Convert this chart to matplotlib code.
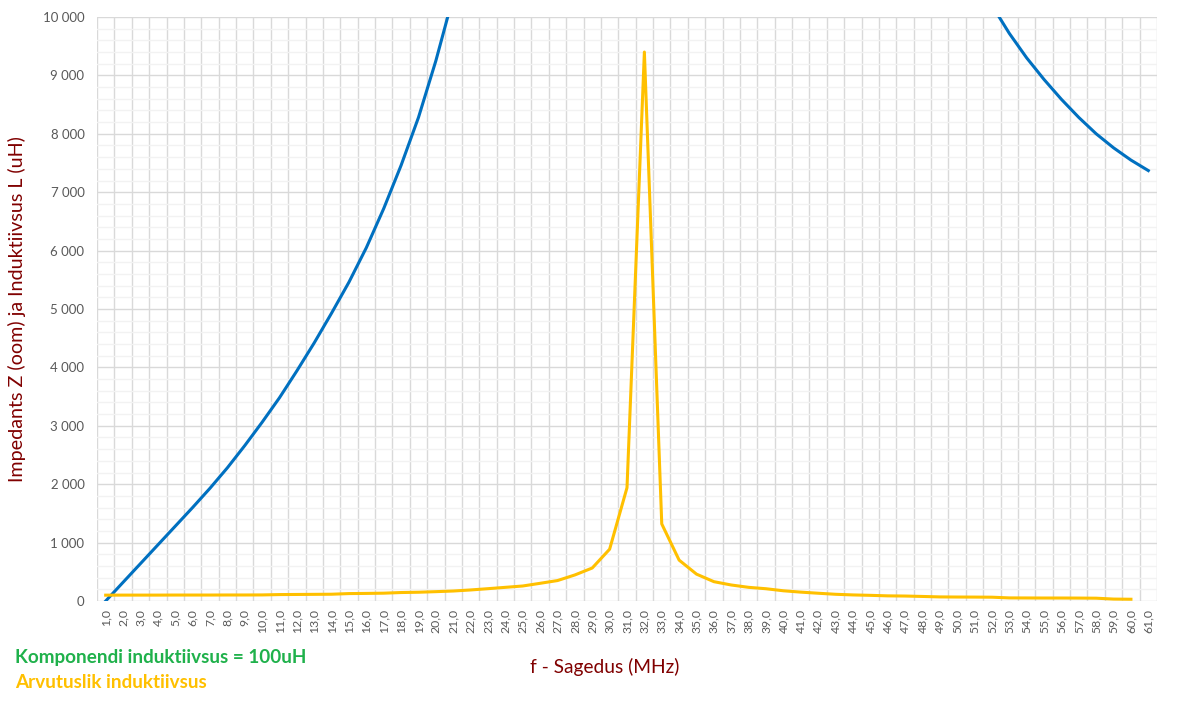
import matplotlib
matplotlib.use("Agg")
import matplotlib.pyplot as plt
from matplotlib.ticker import MultipleLocator, FixedLocator

# frequency categories, MHz
freq = list(range(1, 62))
freq_labels = [f"{f},0" for f in freq]

# impedance Z (ohm), values above 10000 are off the chart
impedance = [
    0, 320, 640, 960, 1280, 1600, 1930, 2280, 2660, 3060,
    3480, 3940, 4420, 4930, 5460, 6050, 6720, 7460, 8280, 9250,
    10350, 11500, 12900, 14600, 16800, 19700, 23800, 30000, 40500, 62000,
    130000, 900000, 90000, 52000, 37000, 29000, 24500, 21500, 19200, 17500,
    16200, 15100, 14200, 13400, 12800, 12200, 11700, 11300, 10950, 10650,
    10420, 10200, 9720, 9300, 8930, 8590, 8280, 8000, 7760, 7550,
    7370,
]

# computed inductance (uH), no value for the last category
inductance = [
    100, 101, 101, 101, 102, 102, 102, 103, 103, 104,
    110, 112, 114, 116, 127, 130, 134, 145, 150, 160,
    171, 189, 211, 234, 257, 303, 350, 446, 565, 887,
    1940, 9400, 1320, 700, 460, 331, 274, 234, 210, 175,
    152, 133, 115, 104, 97, 88, 85, 78, 70, 68,
    67, 65, 53, 52, 51, 51, 50, 48, 33, 30,
]

plt.rcParams["font.family"] = ["Lato", "DejaVu Sans"]

fig = plt.figure(figsize=(11.77, 7.05), dpi=100)
ax = fig.add_axes([97 / 1177, 104 / 705, 1060 / 1177, 584 / 705])

ax.plot(freq, impedance, color="#0070C0", lw=2.2, solid_joinstyle="round")
ax.plot(freq[:len(inductance)], inductance, color="#FFC000", lw=2.2,
        solid_joinstyle="round")

ax.set_xlim(0.5, 61.5)
ax.set_ylim(0, 10000)

ax.set_xticks(freq)
ax.set_xticklabels(freq_labels, rotation=90, fontsize=8.8, color="#595959")
ax.xaxis.set_minor_locator(FixedLocator([k + 0.5 for k in range(0, 62)]))
ax.yaxis.set_major_locator(MultipleLocator(1000))
ax.yaxis.set_minor_locator(MultipleLocator(200))
ax.set_yticklabels([f"{int(v):,}".replace(",", " ") for v in ax.get_yticks()],
                   fontsize=9.5, color="#595959")
ax.tick_params(axis="both", which="both", length=0)
ax.tick_params(axis="x", pad=6)
ax.tick_params(axis="y", pad=9)

ax.grid(which="minor", axis="x", color="#d9d9d9", lw=1)
ax.grid(which="major", axis="y", color="#d9d9d9", lw=1)
ax.grid(which="minor", axis="y", color="#f2f2f2", lw=1)
ax.set_axisbelow(True)
for s in ax.spines.values():
    s.set_visible(False)

ax.set_ylabel("Impedants Z (oom) ja Induktiivsus L (uH)", fontsize=14.2,
              color="#800000", labelpad=12)
fig.text(605 / 1177, 1 - 667 / 705, "f - Sagedus (MHz)", fontsize=13.8,
         color="#800000", ha="center", va="center")

fig.text(15 / 1177, 1 - 657 / 705, "Komponendi induktiivsus = 100uH",
         fontsize=13.6, fontweight="bold", color="#1FB14B", va="center")
fig.text(15 / 1177, 1 - 682 / 705, "Arvutuslik induktiivsus",
         fontsize=13.6, fontweight="bold", color="#FFC000", va="center")

fig.savefig("out.png", dpi=100)
